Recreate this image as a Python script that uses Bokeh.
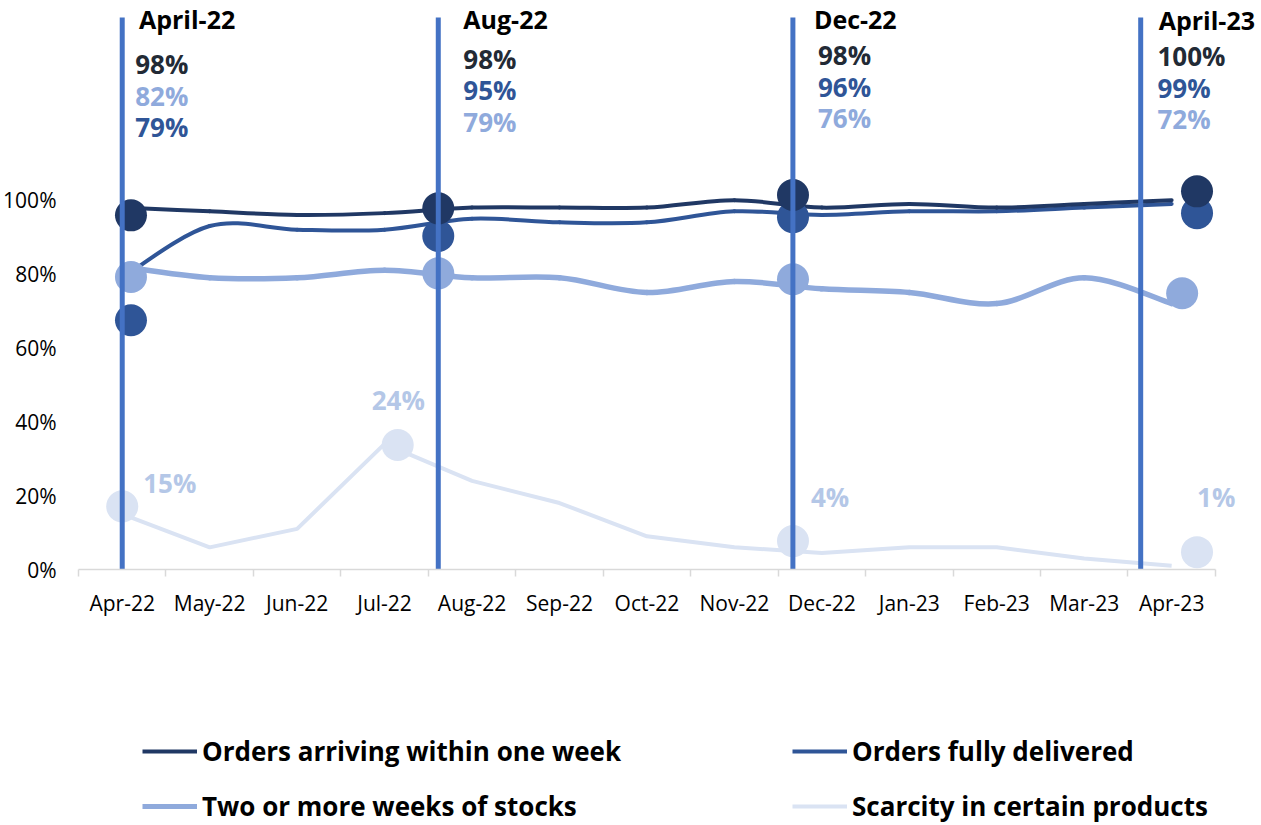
from bokeh.plotting import figure
from bokeh.models import (Range1d, FixedTicker, PrintfTickFormatter, Legend, LegendItem,
                          ColumnDataSource)
from bokeh.layouts import column
from bokeh.core.properties import value
from bokeh.embed import file_html
from bokeh.resources import INLINE

# ---------------- data ----------------
months = ["Apr-22", "May-22", "Jun-22", "Jul-22", "Aug-22", "Sep-22", "Oct-22",
          "Nov-22", "Dec-22", "Jan-23", "Feb-23", "Mar-23", "Apr-23"]
orders_arriving = [98, 97, 96, 96.5, 98, 98, 98, 100, 98, 99, 98, 99, 100]
orders_fully = [79, 93, 92, 92, 95, 94, 94, 97, 96, 97, 97, 98, 99]
stocks = [82, 79, 79, 81, 79, 79, 75, 78, 76, 75, 72, 79, 72]
scarcity = [15, 6, 11, 34, 24, 18, 9, 6, 4.5, 6, 6, 3, 1]

callout_months = ["April-22", "Aug-22", "Dec-22", "April-23"]
callout_arriving = [98, 98, 98, 100]
callout_fully = [79, 95, 96, 99]
callout_stocks = [82, 79, 76, 72]

dot_arriving = [95.9, 97.8, 101.4, 102.4]
dot_fully = [67.5, 90.3, 95.4, 96.5]
dot_stocks = [79.2, 80.2, 78.6, 74.8]
dot_scarcity = [17.1, 33.7, 7.7, 4.7]
scarcity_labels = ["15%", "24%", "4%", "1%"]

y_ticks = [0, 20, 40, 60, 80, 100]

legend_labels = ["Orders arriving within one week", "Orders fully delivered",
                 "Two or more weeks of stocks", "Scarcity in certain products"]

# ---------------- layout / style constants ----------------
callout_x = [0, 3.614, 7.669, 11.646]
dot_x_main = [0.10, 3.614, 7.67, 12.29]
dot_x_stocks = [0.10, 3.614, 7.67, 12.12]
dot_x_scarcity = [0.0, 3.15, 7.67, 12.29]

C_ARR = "#203864"
C_FUL = "#2F5597"
C_STK = "#8FAADC"
C_SCA = "#DAE3F3"
C_VLINE = "#4472C4"
C_TXT_DARK = "#222A35"
C_SCA_TXT = "#B4C7E7"

FONT = "Open Sans"

W = 1261
H_MAIN, H_LEG = 620, 205
BORDER_L = 76
FRAME_H = 569
BORDER_B = H_MAIN - FRAME_H
PX_X = 87.6
PX_Y = 3.693
TEXT_SHIFT = -9.5   # vertical correction of text placement (px)
LEG_SHIFT_X = -79   # horizontal correction of legend placement (px)

frame_w = W - BORDER_L
x_range = Range1d(-0.5, -0.5 + frame_w / PX_X)
y_range = Range1d(0, FRAME_H / PX_Y)

p = figure(width=W, height=H_MAIN, x_range=x_range, y_range=y_range,
           output_backend="svg", toolbar_location=None,
           min_border_left=BORDER_L, min_border_right=0, min_border_top=0,
           min_border_bottom=BORDER_B)
p.outline_line_color = None
p.grid.visible = False
p.background_fill_color = "white"
p.border_fill_color = "white"

# x axis
xa = p.xaxis[0]
xa.ticker = FixedTicker(ticks=list(range(len(months))),
                        minor_ticks=[i - 0.5 for i in range(len(months) + 1)])
xa.major_label_overrides = {i: m for i, m in enumerate(months)}
xa.bounds = (-0.5, len(months) - 0.5)
xa.axis_line_color = "#D9D9D9"
xa.axis_line_width = 1.5
xa.major_tick_out = 0
xa.major_tick_in = 0
xa.major_tick_line_color = None
xa.minor_tick_out = 7
xa.minor_tick_in = 0
xa.minor_tick_line_color = "#D9D9D9"
xa.minor_tick_line_width = 1.5
xa.major_label_text_font = FONT
xa.major_label_text_font_size = "21px"
xa.major_label_text_color = "black"
xa.major_label_standoff = 12

# y axis
ya = p.yaxis[0]
ya.ticker = FixedTicker(ticks=y_ticks)
ya.formatter = PrintfTickFormatter(format="%d%%")
ya.axis_line_color = None
ya.major_tick_line_color = None
ya.minor_tick_line_color = None
ya.major_tick_out = 0
ya.major_tick_in = 0
ya.major_label_text_font = FONT
ya.major_label_text_font_size = "21px"
ya.major_label_text_color = "black"
ya.major_label_standoff = 22


def bezier_source(xs, ys):
    n = len(xs)
    d = dict(x0=[], y0=[], x1=[], y1=[], cx0=[], cy0=[], cx1=[], cy1=[])
    for i in range(n - 1):
        i0 = max(i - 1, 0)
        i3 = min(i + 2, n - 1)
        d["x0"].append(xs[i]); d["y0"].append(ys[i])
        d["x1"].append(xs[i + 1]); d["y1"].append(ys[i + 1])
        d["cx0"].append(xs[i] + (xs[i + 1] - xs[i0]) / 6.0)
        d["cy0"].append(ys[i] + (ys[i + 1] - ys[i0]) / 6.0)
        d["cx1"].append(xs[i + 1] - (xs[i3] - xs[i]) / 6.0)
        d["cy1"].append(ys[i + 1] - (ys[i3] - ys[i]) / 6.0)
    return ColumnDataSource(d)


xi = list(range(len(months)))

# series lines
p.line(xi, scarcity, line_color=C_SCA, line_width=4, line_join="round")
for series, color, lw in [(stocks, C_STK, 5.5), (orders_fully, C_FUL, 4),
                          (orders_arriving, C_ARR, 4)]:
    p.bezier(x0="x0", y0="y0", x1="x1", y1="y1", cx0="cx0", cy0="cy0",
             cx1="cx1", cy1="cy1", source=bezier_source(xi, series),
             line_color=color, line_width=lw, line_cap="round")

# highlight dots
p.scatter(dot_x_scarcity, dot_scarcity, size=32, fill_color=C_SCA, line_color=None)
p.scatter(dot_x_stocks, dot_stocks, size=32, fill_color=C_STK, line_color=None)
p.scatter(dot_x_main, dot_fully, size=32, fill_color=C_FUL, line_color=None)
p.scatter(dot_x_main, dot_arriving, size=32, fill_color=C_ARR, line_color=None)

# vertical callout lines
p.segment(x0=callout_x, y0=[-2] * 4, x1=callout_x, y1=[149.5] * 4,
          line_color=C_VLINE, line_width=5)

# callout texts (anchored at y=150, offsets in screen pixels)
anchor_screen = FRAME_H - 150 * PX_Y
month_dx = [16.7, 25, 21, 18]
month_baseline = [28, 28, 28, 29]
pct_dx = [13, 25, 25, 16.7]
pct_first_baseline = [73.3, 67.8, 64.3, 65.3]
pct_step = 31.5

p.text(x=callout_x, y=[150] * 4, text=callout_months,
       x_offset=month_dx,
       y_offset=[b - anchor_screen + TEXT_SHIFT for b in month_baseline],
       text_font=value(FONT), text_font_style="bold", text_font_size="25px",
       text_color="black", text_baseline="alphabetic", text_align="left")

tx, ty, tt, tc, tdx, tdy = [], [], [], [], [], []
for j in range(len(callout_months)):
    rows = sorted([(callout_arriving[j], C_TXT_DARK), (callout_fully[j], C_FUL),
                   (callout_stocks[j], C_STK)], key=lambda r: -r[0])
    for k, (v, c) in enumerate(rows):
        tx.append(callout_x[j]); ty.append(150)
        tt.append(f"{v}%"); tc.append(c)
        tdx.append(pct_dx[j])
        tdy.append(pct_first_baseline[j] + k * pct_step - anchor_screen + TEXT_SHIFT)
p.text(x=tx, y=ty, text=tt, text_color=tc, x_offset=tdx, y_offset=tdy,
       text_font=value(FONT), text_font_style="bold", text_font_size="26px",
       text_baseline="alphabetic", text_align="left")

# scarcity labels
p.text(x=dot_x_scarcity, y=dot_scarcity, text=scarcity_labels,
       x_offset=[21, -26, 18, 0],
       y_offset=[v + TEXT_SHIFT for v in [-14.3, -36, -34.3, -45.3]],
       text_font=value(FONT), text_font_style="bold", text_font_size="26px",
       text_color=C_SCA_TXT, text_baseline="alphabetic", text_align="left")

# ---------------- legend figure ----------------
q = figure(width=W, height=H_LEG, x_range=Range1d(0, 1), y_range=Range1d(0, 1),
           output_backend="svg", toolbar_location=None,
           x_axis_location=None, y_axis_location=None,
           min_border_left=0, min_border_right=0, min_border_top=0, min_border_bottom=0)
q.grid.visible = False
q.outline_line_color = None

nan = float("nan")
lr_arr = q.line([nan], [nan], line_color=C_ARR, line_width=4)
lr_ful = q.line([nan], [nan], line_color=C_FUL, line_width=4)
lr_stk = q.line([nan], [nan], line_color=C_STK, line_width=5)
lr_sca = q.line([nan], [nan], line_color=C_SCA, line_width=4)

ITEM_H = 36
ROW_GAP = 55
leg_kw = dict(orientation="vertical", glyph_width=55, glyph_height=ITEM_H,
              label_height=ITEM_H, label_standoff=5, spacing=ROW_GAP - ITEM_H,
              padding=0, margin=0,
              border_line_color=None, background_fill_alpha=0,
              label_text_font=FONT, label_text_font_style="bold",
              label_text_font_size="26px", label_text_color="black")
row2_center = 806 - H_MAIN
leg_bottom = H_LEG - (row2_center + ITEM_H / 2)
leg_a = Legend(items=[LegendItem(label=legend_labels[0], renderers=[lr_arr]),
                      LegendItem(label=legend_labels[2], renderers=[lr_stk])],
               location=(143 + LEG_SHIFT_X, leg_bottom), **leg_kw)
leg_b = Legend(items=[LegendItem(label=legend_labels[1], renderers=[lr_ful]),
                      LegendItem(label=legend_labels[3], renderers=[lr_sca])],
               location=(793 + LEG_SHIFT_X, leg_bottom), **leg_kw)
q.add_layout(leg_a)
q.add_layout(leg_b)

layout = column(p, q, spacing=0)
open("out.html", "w").write(file_html(layout, INLINE))
